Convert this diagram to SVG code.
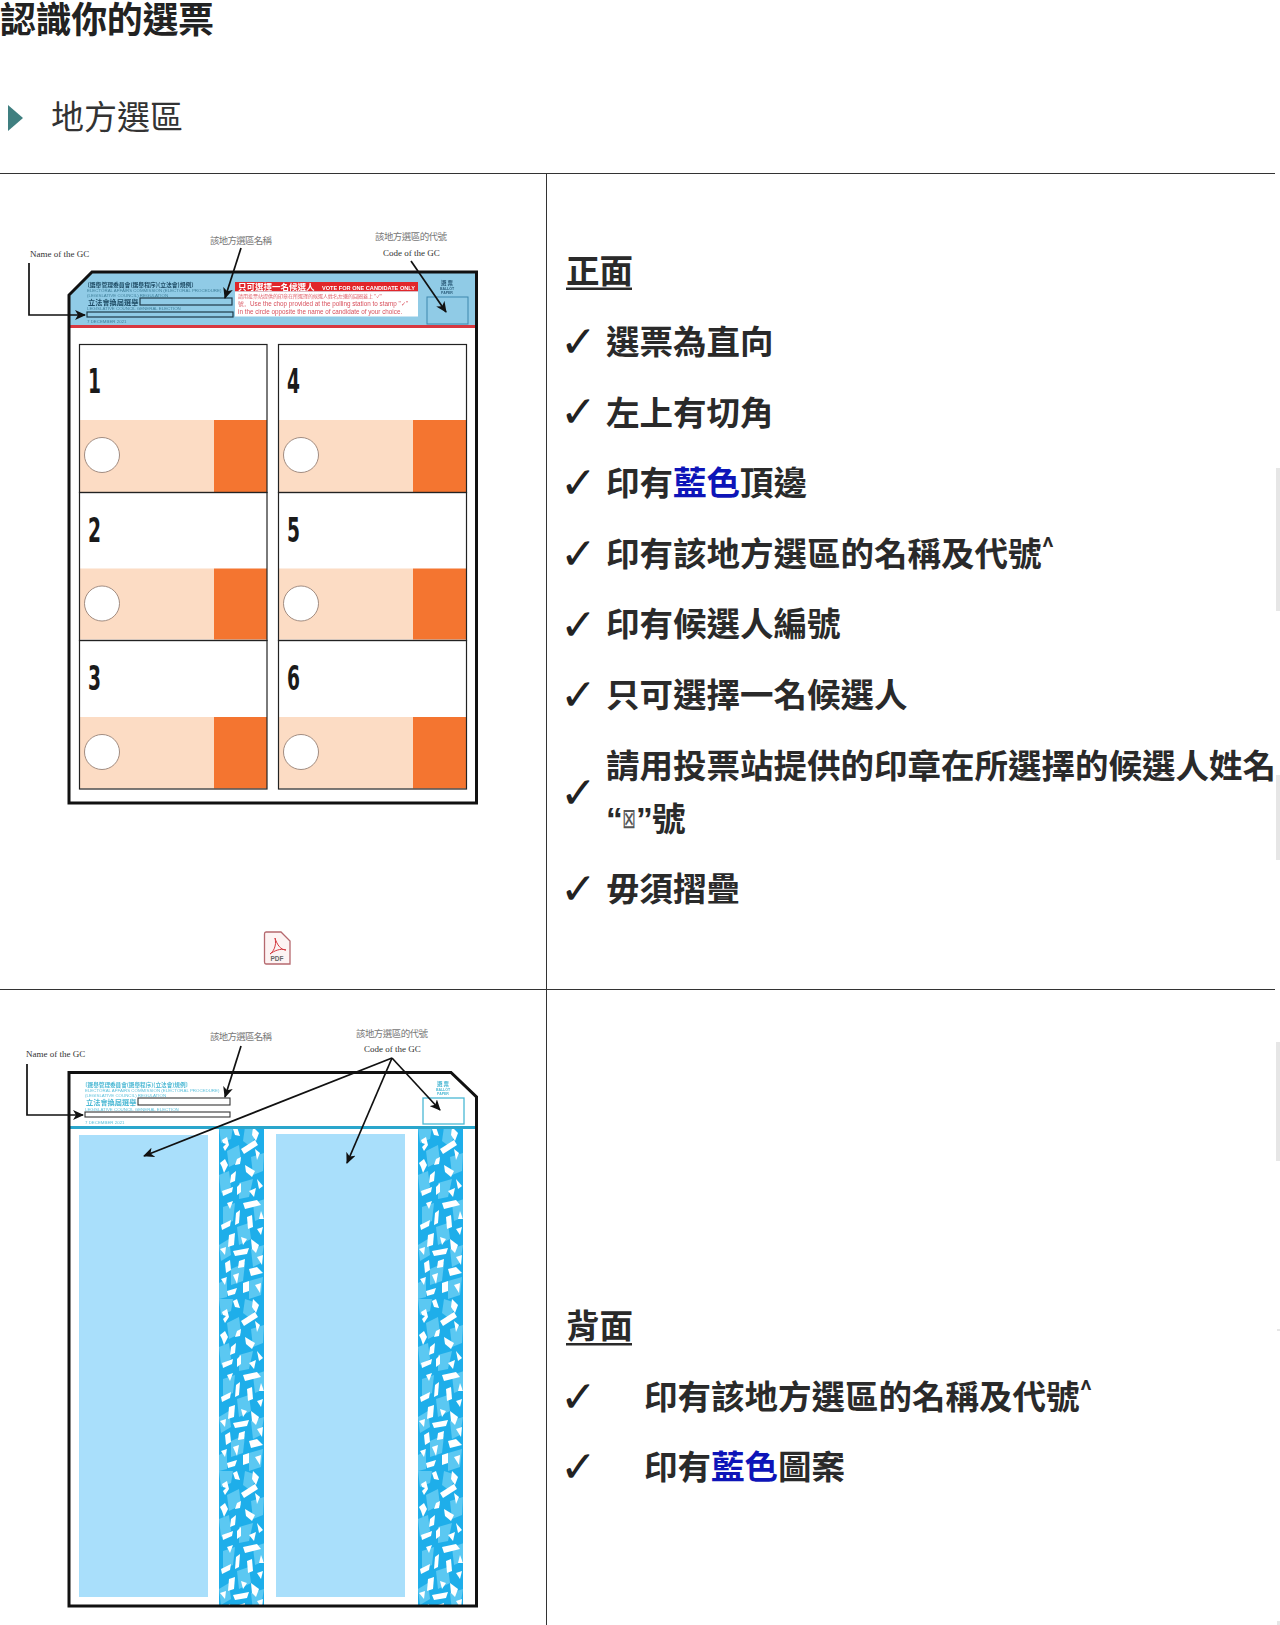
<svg xmlns="http://www.w3.org/2000/svg" width="1280" height="1625" viewBox="0 0 1280 1625">
<style>
text{font-family:"Noto Sans CJK TC","Noto Sans CJK SC",sans-serif}
.h{font-size:33.5px;font-weight:700;fill:#2a2a2a}
.q{font-family:"Liberation Sans",sans-serif;font-size:33.5px;font-weight:700;fill:#2a2a2a}
.tick{font-family:"DejaVu Sans",sans-serif;font-size:44px;fill:#222}
.blue{fill:#0d14b8}
.rule{stroke:#333;stroke-width:1;fill:none}
.lab{font-family:"Liberation Serif",serif;font-size:9px;fill:#333}
.labz{font-size:9.5px;fill:#777}
.arr{stroke:#111;stroke-width:1.7;fill:none;marker-end:url(#ah)}
.out{fill:none;stroke:#111;stroke-width:3}
.box{fill:none;stroke:#222;stroke-width:1.2}
.peach{fill:#fcdcc4}.or{fill:#f47530}
.dot{fill:#fff;stroke:#8a7468;stroke-width:.8}
.num{font-family:"DejaVu Sans Condensed","DejaVu Sans",sans-serif;font-weight:700;font-size:34px;fill:#1a1a1a}
.f{stroke:#1b3a4a;stroke-width:1.2}
.sm{font-family:"Liberation Sans",sans-serif;font-size:4.400px;fill:#3f7f9a}
.bs{font-family:"Liberation Sans",sans-serif;font-size:4.400px;fill:#5cc0dc}
.pan{fill:#a9dffb}
.scr{fill:#e6e6e6}
</style>
<defs>
<marker id="ah" markerUnits="userSpaceOnUse" markerWidth="12" markerHeight="10" refX="10" refY="5" orient="auto"><path d="M0 0L11 5L0 10L3 5Z" fill="#111"/></marker>
<pattern id="shards" patternUnits="userSpaceOnUse" x="219" y="1127" width="199" height="172">
<rect width="46" height="172" fill="#1eaeea"/>
<g fill="#5bc8f2">
<polygon points="0,0 14,0 12,12 2,16"/><polygon points="26,0 38,4 32,20 24,14"/><polygon points="8,24 20,18 22,34 10,40"/><polygon points="32,30 45,26 44,44 34,48"/><polygon points="0,48 10,44 12,60 2,66"/><polygon points="20,56 34,52 30,70 20,72"/><polygon points="34,76 46,72 45,90 36,94"/><polygon points="4,80 16,76 14,94 4,98"/><polygon points="18,100 30,96 32,112 20,118"/><polygon points="0,118 10,112 12,128 2,134"/><polygon points="32,122 45,118 42,136 34,140"/><polygon points="12,142 26,136 24,154 12,158"/><polygon points="30,154 44,150 42,168 30,172"/><polygon points="0,156 8,152 8,170 0,172"/>
</g>
<g fill="#fff">
<polygon points="14,2 18,0 21,9 16,8"/><polygon points="34,0 40,6 37,14 33,8"/><polygon points="22,22 36,13 39,18 25,27"/><polygon points="3,13 8,10 10,18 6,24 4,20 7,17 4,16"/><polygon points="36,22 41,26 38,33"/><polygon points="18,32 22,30 21,37 16,38"/><polygon points="1,36 6,32 9,38 5,46 3,40"/><polygon points="26,38 36,44 33,50 27,45"/><polygon points="12,48 17,44 16,54 11,56"/><polygon points="38,52 44,59 40,62"/><polygon points="18,60 22,56 22,65 18,68"/><polygon points="3,64 14,60 13,65 4,69"/><polygon points="30,64 37,61 35,70"/><polygon points="8,76 14,74 11,82"/><polygon points="24,76 38,73 42,78 26,82"/><polygon points="42,84 45,92 40,92"/><polygon points="17,86 21,83 20,96 16,98"/><polygon points="28,90 33,88 34,100 29,102"/><polygon points="2,98 12,93 11,99 3,103"/><polygon points="38,102 44,100 42,108"/><polygon points="10,108 16,106 15,118 9,120"/><polygon points="22,110 28,112 24,118"/><polygon points="32,112 40,118 37,126 33,122"/><polygon points="1,122 7,120 6,128"/><polygon points="14,124 30,121 28,127 16,129"/><polygon points="38,130 44,128 43,138"/><polygon points="6,136 11,133 12,143 7,146"/><polygon points="20,134 26,132 25,140 19,141"/><polygon points="30,142 38,140 44,146 32,149"/><polygon points="14,148 20,146 18,157"/><polygon points="2,152 8,150 6,158"/><polygon points="24,156 30,154 30,164 24,166"/><polygon points="36,158 42,156 41,166"/><polygon points="8,164 18,161 16,167 9,169"/>
</g>
</pattern>
<filter id="soft" x="-5%" y="-5%" width="110%" height="110%"><feGaussianBlur stdDeviation=".35"/></filter>
</defs>

<g id="heading">
<text x="0" y="33" font-size="36" font-weight="700" fill="#222" textLength="214">認識你的選票</text>
<polygon points="8,105 23,118 8,131" fill="#3f7f80"/>
<text x="51" y="129" font-size="33" fill="#333">地方選區</text>
</g>

<g id="table-lines">
<path class="rule" d="M0 173.500H1275M0 989.500H1275M546.500 173V1625"/>
</g>

<g id="front-ballot">
<path d="M92 272H476V325H69V295Z" fill="#90cbe6"/>
<g filter="url(#soft)">
<rect x="69" y="325" width="407" height="3" fill="#d8383f"/>
<rect x="235" y="282" width="183" height="9.500" fill="#e1262c"/>
<rect x="235" y="291.500" width="183" height="25" fill="#fff"/>
<rect x="427" y="297" width="41" height="27" fill="#90cbe6" stroke="#3d87ad" stroke-width="1"/>
<rect x="140" y="298" width="92" height="7" fill="none" class="f"/>
<rect x="87" y="312" width="146" height="5" fill="none" class="f"/>
<text x="84" y="287" font-size="5.800" font-weight="700" fill="#1d4a63">〔選舉管理委員會(選舉程序)(立法會)規例〕</text>
<text class="sm" x="87" y="292">ELECTORAL AFFAIRS COMMISSION (ELECTORAL PROCEDURE)</text>
<text class="sm" x="87" y="296.500">(LEGISLATIVE COUNCIL) REGULATION</text>
<text x="88" y="304.500" font-size="7.200" font-weight="700" fill="#1d4a63">立法會換屆選舉</text>
<text class="sm" x="87" y="310">LEGISLATIVE COUNCIL GENERAL ELECTION</text>
<text class="sm" x="87" y="323" font-size="3.500">7 DECEMBER 2021</text>
<text x="238" y="289.800" font-size="8.500" font-weight="700" fill="#fff">只可選擇一名候選人</text>
<text x="322" y="289.500" style="font-family:'Liberation Sans',sans-serif" font-size="5.600" font-weight="700" fill="#fff">VOTE FOR ONE CANDIDATE ONLY</text>
<text x="238" y="298" font-size="5" fill="#e0606a">請用投票站提供的印章在所選擇的候選人姓名左邊的圓圈蓋上 "✓"</text>
<text x="238" y="306" style="font-family:'Liberation Sans',sans-serif" font-size="6.300" fill="#d8505c">號。Use the chop provided at the polling station to stamp "✓"</text>
<text x="238" y="314" style="font-family:'Liberation Sans',sans-serif" font-size="6.300" fill="#d8505c">in the circle opposite the name of candidate of your choice.</text>
<text x="447" y="285" font-size="5.500" font-weight="700" fill="#2d5e7c" text-anchor="middle">選 票</text>
<text x="447" y="290" style="font-family:'Liberation Sans',sans-serif" font-size="3.500" font-weight="700" fill="#2d5e7c" text-anchor="middle">BALLOT</text>
<text x="447" y="294" style="font-family:'Liberation Sans',sans-serif" font-size="3.500" font-weight="700" fill="#2d5e7c" text-anchor="middle">PAPER</text>
</g>
<path class="out" d="M92 272H476.500V803H69V295Z"/>
</g>

<g id="candidate-1"><rect class="peach" x="80" y="420" width="134" height="72"/><rect class="or" x="214" y="420" width="53" height="72"/><rect class="box" x="79.500" y="344.500" width="187.500" height="148"/><circle class="dot" cx="102" cy="455" r="17.500"/><text class="num" x="88" y="393" textLength="13" lengthAdjust="spacingAndGlyphs">1</text></g>
<g id="candidate-2"><rect class="peach" x="80" y="568.500" width="134" height="71"/><rect class="or" x="214" y="568.500" width="53" height="71"/><rect class="box" x="79.500" y="492.500" width="187.500" height="148"/><circle class="dot" cx="102" cy="603.500" r="17.500"/><text class="num" x="88" y="541.500" textLength="13" lengthAdjust="spacingAndGlyphs">2</text></g>
<g id="candidate-3"><rect class="peach" x="80" y="717" width="134" height="71.500"/><rect class="or" x="214" y="717" width="53" height="71.500"/><rect class="box" x="79.500" y="640.500" width="187.500" height="148.500"/><circle class="dot" cx="102" cy="752" r="17.500"/><text class="num" x="88" y="690" textLength="13" lengthAdjust="spacingAndGlyphs">3</text></g>
<g id="candidate-4"><rect class="peach" x="279" y="420" width="134" height="72"/><rect class="or" x="413" y="420" width="53.500" height="72"/><rect class="box" x="278.500" y="344.500" width="188" height="148"/><circle class="dot" cx="301" cy="455" r="17.500"/><text class="num" x="287" y="393" textLength="13" lengthAdjust="spacingAndGlyphs">4</text></g>
<g id="candidate-5"><rect class="peach" x="279" y="568.500" width="134" height="71"/><rect class="or" x="413" y="568.500" width="53.500" height="71"/><rect class="box" x="278.500" y="492.500" width="188" height="148"/><circle class="dot" cx="301" cy="603.500" r="17.500"/><text class="num" x="287" y="541.500" textLength="13" lengthAdjust="spacingAndGlyphs">5</text></g>
<g id="candidate-6"><rect class="peach" x="279" y="717" width="134" height="71.500"/><rect class="or" x="413" y="717" width="53.500" height="71.500"/><rect class="box" x="278.500" y="640.500" width="188" height="148.500"/><circle class="dot" cx="301" cy="752" r="17.500"/><text class="num" x="287" y="690" textLength="13" lengthAdjust="spacingAndGlyphs">6</text></g>

<g id="front-labels">
<text class="lab" x="30" y="257">Name of the GC</text>
<text class="labz" x="210" y="244" textLength="62">該地方選區名稱</text>
<text class="labz" x="375" y="240" textLength="72">該地方選區的代號</text>
<text class="lab" x="383" y="256">Code of the GC</text>
</g>

<g id="pdf-icon">
<path d="M266 932H281L290 941V964H266Q264.500 964 264.500 962V934Q264.500 932 266 932Z" fill="#fdf3f3" stroke="#b5686e" stroke-width="1.300"/>
<path d="M275 938C277 946 273 952 270 954C274 951 280 948 286 950C281 950 277 945 275 938Z" fill="none" stroke="#d4393f" stroke-width="1"/>
<text x="277" y="961" style="font-family:'Liberation Sans',sans-serif" font-size="6.500" font-weight="700" fill="#666" text-anchor="middle">PDF</text>
</g>

<g id="front-list">
<text class="h" x="566" y="283">正面</text><rect x="566" y="287.500" width="66" height="2.500" fill="#2a2a2a"/>
<text class="tick" x="560" y="357">✓</text><text class="h" x="606" y="354">選票為直向</text>
<text class="tick" x="560" y="427">✓</text><text class="h" x="606" y="424.500">左上有切角</text>
<text class="tick" x="560" y="498">✓</text><text class="h" x="606" y="495">印有<tspan class="blue">藍色</tspan>頂邊</text>
<text class="tick" x="560" y="569">✓</text><text class="h" x="606" y="566">印有該地方選區的名稱及代號<tspan font-size="22" dy="-12">^</tspan></text>
<text class="tick" x="560" y="640">✓</text><text class="h" x="606" y="636">印有候選人編號</text>
<text class="tick" x="560" y="710">✓</text><text class="h" x="606" y="707">只可選擇一名候選人</text>
<text class="tick" x="560" y="808">✓</text><text class="h" x="606" y="778">請用投票站提供的印章在所選擇的候選人姓名</text>
<text class="q" x="606" y="831">“</text>
<text transform="translate(622 828) scale(1 1.700)" style="font-family:'DejaVu Sans',sans-serif" font-size="16.500" fill="#555">⊠</text>
<text class="q" x="636" y="831">”</text>
<text class="h" x="652" y="831">號</text>
<text class="tick" x="560" y="904">✓</text><text class="h" x="606" y="901">毋須摺疊</text>
</g>

<g id="back-ballot">
<rect x="79" y="1135" width="129" height="462" class="pan"/>
<rect x="276" y="1134" width="129" height="463" class="pan"/>
<rect x="219" y="1127" width="45" height="478" fill="url(#shards)"/>
<rect x="418" y="1127" width="45" height="478" fill="url(#shards)"/>
<g filter="url(#soft)">
<rect x="68" y="1126" width="408" height="3" fill="#2ba6cc"/>
<rect x="423" y="1098" width="41" height="26" fill="none" stroke="#4bb8d4" stroke-width="1.300"/>
<rect x="138" y="1098" width="92" height="7" fill="#fff" stroke="#333" stroke-width="1.100"/>
<rect x="85" y="1112" width="145" height="5" fill="#fff" stroke="#333" stroke-width="1.100"/>
<text x="82" y="1087" font-size="5.600" font-weight="700" fill="#4bb8d4">〔選舉管理委員會(選舉程序)(立法會)規例〕</text>
<text class="bs" x="85" y="1092">ELECTORAL AFFAIRS COMMISSION (ELECTORAL PROCEDURE)</text>
<text class="bs" x="85" y="1096.500">(LEGISLATIVE COUNCIL) REGULATION</text>
<text x="86" y="1105" font-size="7.200" font-weight="700" fill="#4bb8d4">立法會換屆選舉</text>
<text class="bs" x="85" y="1110.500">LEGISLATIVE COUNCIL GENERAL ELECTION</text>
<text class="bs" x="85" y="1124" font-size="3.500">7 DECEMBER 2021</text>
<text x="443" y="1086" font-size="5.500" font-weight="700" fill="#4bb8d4" text-anchor="middle">選 票</text>
<text x="443" y="1091" style="font-family:'Liberation Sans',sans-serif" font-size="3.500" font-weight="700" fill="#4bb8d4" text-anchor="middle">BALLOT</text>
<text x="443" y="1095" style="font-family:'Liberation Sans',sans-serif" font-size="3.500" font-weight="700" fill="#4bb8d4" text-anchor="middle">PAPER</text>
</g>
<path class="out" d="M69 1072.500H451L476.500 1097V1606H69Z"/>
</g>

<g id="back-labels">
<text class="lab" x="26" y="1057">Name of the GC</text>
<text class="labz" x="210" y="1040" textLength="62">該地方選區名稱</text>
<text class="labz" x="356" y="1037" textLength="72">該地方選區的代號</text>
<text class="lab" x="364" y="1052">Code of the GC</text>
</g>

<g id="connectors">
<path class="arr" d="M29 263V315H85"/>
<path class="arr" d="M241 248L225 298"/>
<path class="arr" d="M411 261L446 312"/>
<path class="arr" d="M27 1064V1115H83"/>
<path class="arr" d="M241 1046L225 1097"/>
<path class="arr" d="M392 1058L440 1110"/>
<path class="arr" d="M392 1058L347 1163"/>
<path class="arr" d="M392 1058L144 1156"/>
</g>

<g id="back-list">
<text class="h" x="566" y="1338">背面</text><rect x="566" y="1343" width="66" height="2.500" fill="#2a2a2a"/>
<text class="tick" x="560" y="1412">✓</text><text class="h" x="644" y="1409">印有該地方選區的名稱及代號<tspan font-size="22" dy="-12">^</tspan></text>
<text class="tick" x="560" y="1482">✓</text><text class="h" x="644" y="1479">印有<tspan class="blue">藍色</tspan>圖案</text>
</g>

<g id="scroll-marks">
<rect class="scr" x="1276" y="468" width="4" height="143"/>
<rect class="scr" x="1276" y="775" width="4" height="85"/>
<rect class="scr" x="1276" y="1042" width="4" height="119"/>
<rect class="scr" x="1277" y="1329" width="3" height="2"/>
<rect class="scr" x="1277" y="1621" width="3" height="4"/>
</g>
</svg>
